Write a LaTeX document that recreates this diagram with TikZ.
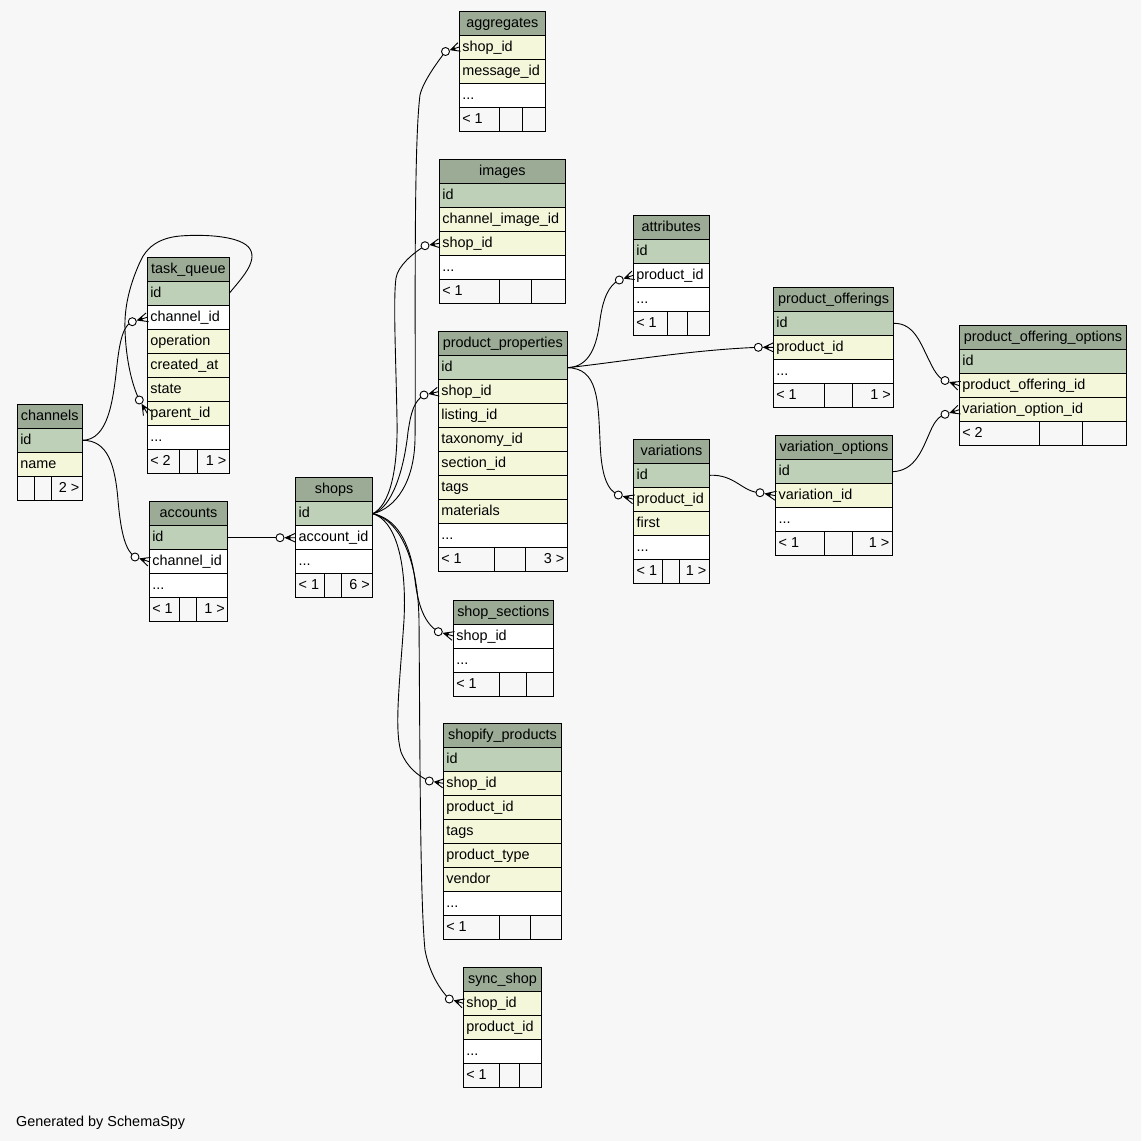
\documentclass[tikz,border=0pt]{standalone}
\usepackage{fontspec}
\setmainfont{Liberation Sans}
\usetikzlibrary{calc}

\definecolor{bgc}{HTML}{F7F7F7}
\definecolor{hdrc}{HTML}{9BAB96}
\definecolor{pkc}{HTML}{BED1B8}
\definecolor{idxc}{HTML}{F4F7DA}

\tikzset{
  cellbox/.style={draw=black, line width=1pt, anchor=north west, inner xsep=3pt,
    inner ysep=0pt, minimum height=24pt, text height=11.5pt, text depth=3pt,
    outer sep=0pt, font=\fontsize{14.4}{17}\selectfont},
  link/.style={draw=black, line width=0.9pt},
}

\newcommand{\moredots}{...}

% table: name, left, top, width, title, rows (fill/text)
\newcommand{\dbtable}[6]{%
  \pgfmathsetmacro{\cw}{#4-6}%
  \node[cellbox, fill=hdrc, minimum width=#4pt] (#1) at (#2,#3) {\makebox[\cw pt][c]{#5}};
  \foreach \st/\tx [count=\i] in {#6} {%
    \node[cellbox, fill=\st, minimum width=#4pt] (#1-\i) at (#2,#3+24*\i) {\makebox[\cw pt][l]{\tx}};
  }%
}

% footer: name, left, top, rows, split1, split2, right, left text, right text
\newcommand{\dbfoot}[9]{%
  \pgfmathsetmacro{\ft}{#3+24*(#4+1)}%
  \pgfmathsetmacro{\wa}{#5-#2}\pgfmathsetmacro{\wb}{#6-#5}\pgfmathsetmacro{\wc}{#7-#6}%
  \pgfmathsetmacro{\ta}{\wa-6}\pgfmathsetmacro{\tc}{\wc-6}%
  \node[cellbox, fill=bgc, minimum width=\wa pt] (#1-fa) at (#2,\ft) {\makebox[\ta pt][l]{#8}};
  \node[cellbox, fill=bgc, minimum width=\wb pt] (#1-fb) at (#5,\ft) {};
  \node[cellbox, fill=bgc, minimum width=\wc pt] (#1-fc) at (#6,\ft) {\makebox[\tc pt][r]{#9}};
}

% zero-or-many end: open circle at #1, crow's foot meeting the border at #2
\newcommand{\crowodot}[2]{%
  \coordinate (crT) at ($(#1)!5.5pt!(#2)$);
  \coordinate (crU) at ($(#2)!4.5pt!90:(#1)$);
  \coordinate (crD) at ($(#2)!4.5pt!-90:(#1)$);
  \draw[link] (crU) -- (crT) -- (crD) (crT) -- (#2);
  \fill (crT) -- ($(crT)!0.55!(crU)$) -- ($(crT)!0.45!(#2)$) -- ($(crT)!0.55!(crD)$) -- cycle;
  \draw[link, fill=white] (#1) circle (4pt);
}

\begin{document}
\begin{tikzpicture}[x=1pt,y=-1pt]
\useasboundingbox (0,0) rectangle (1141,1141);
\fill[bgc] (0,0) rectangle (1141,1141);

% ---- tables ----
\dbtable{chn}{17.3}{404.3}{65}{channels}{pkc/id, idxc/name}
\dbfoot{chn}{17.3}{404.3}{2}{34.3}{51.3}{82.3}{}{2 >}

\dbtable{tq}{147.3}{257.3}{82}{task\_queue}{pkc/id, white/channel\_id, idxc/operation, idxc/created\_at, idxc/state, idxc/parent\_id, white/\moredots}
\dbfoot{tq}{147.3}{257.3}{7}{179.3}{197.7}{229.3}{< 2}{1 >}

\dbtable{acc}{149.3}{501.7}{78.4}{accounts}{pkc/id, white/channel\_id, white/\moredots}
\dbfoot{acc}{149.3}{501.7}{3}{179.3}{196.7}{227.7}{< 1}{1 >}

\dbtable{shp}{295.7}{477.7}{77}{shops}{pkc/id, white/account\_id, white/\moredots}
\dbfoot{shp}{295.7}{477.7}{3}{324.3}{341.3}{372.7}{< 1}{6 >}

\dbtable{agg}{459.3}{11}{86}{aggregates}{idxc/shop\_id, idxc/message\_id, white/\moredots}
\dbfoot{agg}{459.3}{11}{3}{499.3}{522.3}{545.3}{< 1}{}

\dbtable{img}{439.3}{159.3}{126}{images}{pkc/id, idxc/channel\_image\_id, idxc/shop\_id, white/\moredots}
\dbfoot{img}{439.3}{159.3}{4}{499.3}{531.7}{565.3}{< 1}{}

\dbtable{pp}{438.3}{331.7}{129}{product\_properties}{pkc/id, idxc/shop\_id, idxc/listing\_id, idxc/taxonomy\_id, idxc/section\_id, idxc/tags, idxc/materials, white/\moredots}
\dbfoot{pp}{438.3}{331.7}{8}{494.7}{525.7}{567.3}{< 1}{3 >}

\dbtable{ss}{453.3}{600}{100}{shop\_sections}{white/shop\_id, white/\moredots}
\dbfoot{ss}{453.3}{600}{2}{499.3}{526.3}{553.3}{< 1}{}

\dbtable{spf}{443.3}{723.3}{118.4}{shopify\_products}{pkc/id, idxc/shop\_id, idxc/product\_id, idxc/tags, idxc/product\_type, idxc/vendor, white/\moredots}
\dbfoot{spf}{443.3}{723.3}{7}{499.3}{530.3}{561.7}{< 1}{}

\dbtable{sync}{463.3}{967.3}{78.4}{sync\_shop}{idxc/shop\_id, idxc/product\_id, white/\moredots}
\dbfoot{sync}{463.3}{967.3}{3}{499.3}{519.3}{541.7}{< 1}{}

\dbtable{attr}{633.3}{215.3}{76}{attributes}{pkc/id, white/product\_id, white/\moredots}
\dbfoot{attr}{633.3}{215.3}{3}{667.3}{687.3}{709.3}{< 1}{}

\dbtable{var}{633.7}{439.3}{75.6}{variations}{pkc/id, idxc/product\_id, idxc/first, white/\moredots}
\dbfoot{var}{633.7}{439.3}{4}{662.7}{679.3}{709.3}{< 1}{1 >}

\dbtable{po}{773.3}{287.3}{120.4}{product\_offerings}{pkc/id, idxc/product\_id, white/\moredots}
\dbfoot{po}{773.3}{287.3}{3}{824.3}{852.3}{893.7}{< 1}{1 >}

\dbtable{vo}{775.7}{435.7}{116.6}{variation\_options}{pkc/id, idxc/variation\_id, white/\moredots}
\dbfoot{vo}{775.7}{435.7}{3}{824.3}{852.7}{892.3}{< 1}{1 >}

\dbtable{poo}{959.3}{325.7}{167.4}{product\_offering\_options}{pkc/id, idxc/product\_offering\_id, idxc/variation\_option\_id}
\dbfoot{poo}{959.3}{325.7}{3}{1039.3}{1082.3}{1126.7}{< 2}{}

% ---- circle positions of the foreign-key ends ----
\coordinate (cA) at (132.3,321.7);
\coordinate (cB) at (139.3,400);
\coordinate (cC) at (135,557);
\coordinate (cD) at (280,537.7);
\coordinate (cE) at (445.5,51.5);
\coordinate (cF) at (425,245.7);
\coordinate (cG) at (424,395);
\coordinate (cH) at (438.3,631.7);
\coordinate (cI) at (429.3,781);
\coordinate (cJ) at (449.3,999);
\coordinate (cK) at (619.3,280);
\coordinate (cL) at (758.3,347.3);
\coordinate (cM) at (618.3,495);
\coordinate (cN) at (760,492.7);
\coordinate (cO) at (945,380.5);
\coordinate (cP) at (945,414.3);

% ---- relationships ----
\draw[link] (chn-1.east) .. controls (108,440) and (113,402) .. (117,365)
  .. controls (120,338) and (124,325) .. (cA);
\draw[link] (tq-1.east) .. controls (240,280) and (258,262) .. (250,249)
  .. controls (242,236) and (205,234) .. (180,236)
  .. controls (158,238) and (146,248) .. (140,262)
  .. controls (131,282) and (124,305) .. (125,330)
  .. controls (126,360) and (132,385) .. (cB);
\draw[link] (chn-1.east) .. controls (108,440) and (115,465) .. (118,500)
  .. controls (121,535) and (126,551) .. (cC);
\draw[link] (acc-1.east) -- (cD);

\draw[link] (shp-1.east) .. controls (396,508) and (414,482) .. (415,440)
  .. controls (416,350) and (413,150) .. (420,95)
  .. controls (423,82) and (436,64) .. (cE);
\draw[link] (shp-1.east) .. controls (390,505) and (398,470) .. (397,420)
  .. controls (396,360) and (393,300) .. (396,278)
  .. controls (398,266) and (412,254) .. (cF);
\draw[link] (shp-1.east) .. controls (392,508) and (404,470) .. (408,432)
  .. controls (411,412) and (414,401) .. (cG);
\draw[link] (shp-1.east) .. controls (395,518) and (410,540) .. (415,580)
  .. controls (418,606) and (425,624) .. (cH);
\draw[link] (shp-1.east) .. controls (395,520) and (407,560) .. (404,620)
  .. controls (400,680) and (394,728) .. (401,752)
  .. controls (407,767) and (418,776) .. (cI);
\draw[link] (shp-1.east) .. controls (400,520) and (418,560) .. (419,620)
  .. controls (420,750) and (420,900) .. (425,950)
  .. controls (429,972) and (440,990) .. (cJ);

\draw[link] (pp-1.east) .. controls (590,367) and (597,345) .. (600,320)
  .. controls (603,298) and (609,285) .. (cK);
\draw[link] (pp-1.east) .. controls (620,362) and (690,350) .. (cL);
\draw[link] (pp-1.east) .. controls (598,368) and (598,400) .. (600,440)
  .. controls (601,475) and (607,490) .. (cM);
\draw[link] (var-1.east) .. controls (735,474) and (742,492) .. (cN);
\draw[link] (po-1.east) .. controls (915,323) and (921,345) .. (930,362)
  .. controls (935,373) and (940,379) .. (cO);
\draw[link] (vo-1.east) .. controls (915,471) and (922,450) .. (930,432)
  .. controls (935,420) and (940,416) .. (cP);

% ---- crow's feet ----
\crowodot{cA}{tq-2.west}
\crowodot{cB}{tq-6.west}
\crowodot{cC}{acc-2.west}
\crowodot{cD}{shp-2.west}
\crowodot{cE}{agg-1.west}
\crowodot{cF}{img-3.west}
\crowodot{cG}{pp-2.west}
\crowodot{cH}{ss-1.west}
\crowodot{cI}{spf-2.west}
\crowodot{cJ}{sync-1.west}
\crowodot{cK}{attr-2.west}
\crowodot{cL}{po-2.west}
\crowodot{cM}{var-2.west}
\crowodot{cN}{vo-2.west}
\crowodot{cO}{poo-2.west}
\crowodot{cP}{poo-3.west}

\node[anchor=base west, inner sep=0pt, font=\fontsize{14.4}{17}\selectfont] (credit) at (16,1126.5) {Generated by SchemaSpy};
\end{tikzpicture}
\end{document}
